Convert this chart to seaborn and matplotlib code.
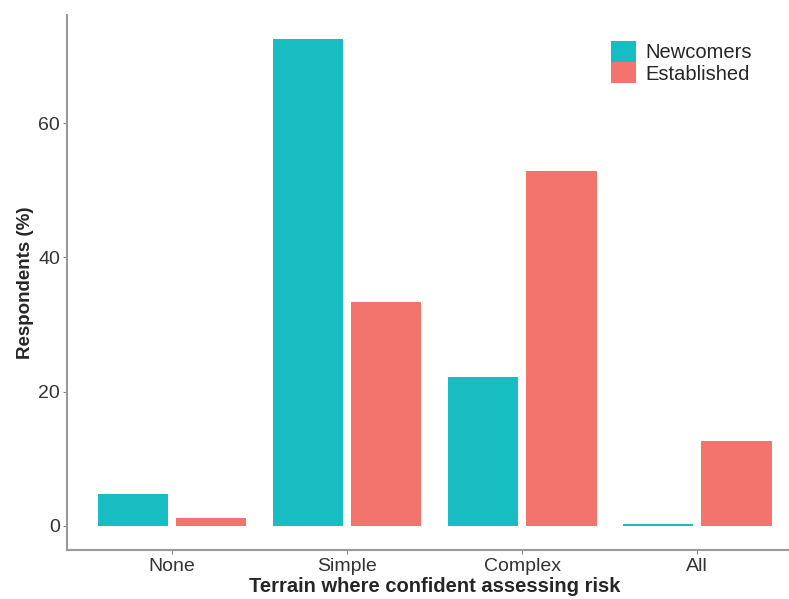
import pandas as pd
import matplotlib
matplotlib.use("Agg")
from matplotlib import pyplot as plt
import seaborn as sns

terrain = ["None", "Simple", "Complex", "All"]
newcomers = [4.8, 72.5, 22.2, 0.3]
established = [1.2, 33.3, 52.8, 12.6]
groups = ["Newcomers", "Established"]
colors = ["#17BDC1", "#F3746C"]

df = pd.DataFrame({
    "terrain": terrain * 2,
    "pct": newcomers + established,
    "group": [groups[0]] * 4 + [groups[1]] * 4,
})

sns.set_style("white")
plt.rcParams["font.family"] = ["Liberation Sans", "DejaVu Sans"]

fig = plt.figure(figsize=(7.89, 5.99), dpi=100)
ax = fig.add_axes([0.085, 0.0818, 0.9316, 0.893])

sns.barplot(data=df, x="terrain", y="pct", hue="group", order=terrain,
            hue_order=groups, palette=colors, width=0.9, gap=0.11,
            saturation=1, linewidth=0, ax=ax)

ax.set_xlim(-0.6, 3.6)
ax.set_ylim(-3.6, 76.1)
ax.set_yticks([0, 20, 40, 60])
ax.set_xlabel("Terrain where confident assessing risk", fontsize=14.5, fontweight="bold", labelpad=1)
ax.set_ylabel("Respondents (%)", fontsize=13.5, fontweight="bold", labelpad=3)
ax.tick_params(axis="both", labelsize=14, labelcolor="#333333", color="#888888",
               length=3, width=0.8, direction="out", bottom=True, left=True)
ax.tick_params(axis="x", pad=3)
ax.tick_params(axis="y", pad=2)

for side in ["top", "right"]:
    ax.spines[side].set_visible(False)
for side in ["left", "bottom"]:
    ax.spines[side].set_color("#999999")
    ax.spines[side].set_linewidth(1.5)

handles, labels = ax.get_legend_handles_labels()
ax.legend(handles, labels, loc="upper left", bbox_to_anchor=(0.752, 0.962),
          bbox_transform=fig.transFigure, frameon=False, fontsize=14.5,
          handlelength=1.2, handleheight=1.2, handletextpad=0.5, labelspacing=0.02)

fig.savefig("out.png", dpi=100)
